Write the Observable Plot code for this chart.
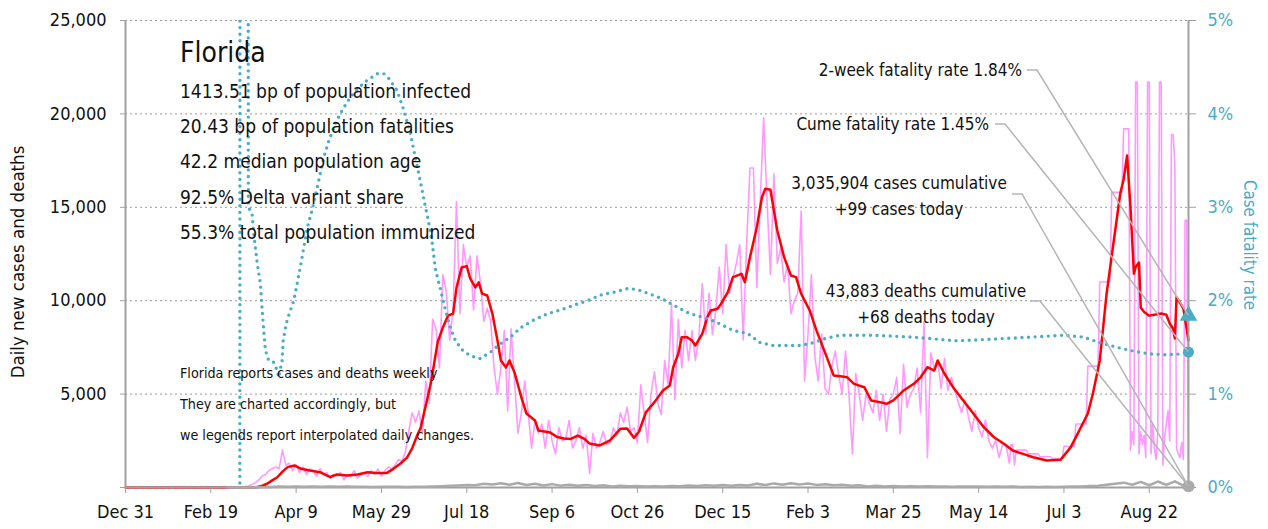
<!DOCTYPE html>
<html><head><meta charset="utf-8">
<script src="https://cdn.jsdelivr.net/npm/d3@7"></script>
<script src="https://cdn.jsdelivr.net/npm/@observablehq/plot@0.6"></script>
<style>
body{margin:0;background:#fff;}
svg, svg text{font-stretch:condensed;}
</style></head><body><div id="chart"></div>
<script>
// ---- data (day offsets from Dec 31, 2019) ----
const originMs = Date.UTC(2019, 11, 31);
const lastDay = 623;

// daily new cases, every 2nd day, from day 60 to day 518
const pinkEarlyStart = 60;
const pinkEarlyStep = 2;
const pinkEarly = [
  0,0,10,20,30,50,80,150,250,400,
  600,700,900,1000,1100,1000,2000,1200,1300,900,
  1200,800,1100,700,1000,900,600,1000,700,800,
  500,700,600,800,400,700,600,900,500,700,
  800,600,900,700,1000,600,900,1100,1000,1200,
  1500,1400,1900,3000,4000,3500,4100,2900,5700,4500,
  9000,8500,6400,11400,10500,7900,9500,15300,9300,13000,
  11800,12400,9500,12400,11000,8900,9600,8900,6400,5000,
  6400,8400,4100,8500,5700,2900,4000,5700,4000,2100,
  3600,2900,3400,2100,3600,2500,1800,3200,2500,2600,
  3600,2100,2500,3200,2100,2800,750,2900,2100,2400,
  3000,2300,2400,3200,2800,4000,3500,4300,3000,3200,
  2400,5500,4000,2400,5000,6200,4500,3900,6800,5500,
  9800,4700,9000,6400,8400,6800,8400,6800,8000,10900,
  8200,10400,8200,9500,11800,9300,13000,10400,11200,12000,
  13000,7900,13000,17100,17100,10700,15300,19800,15300,11400,
  16800,12000,12800,11000,12000,9300,10000,10400,14800,5700,
  8200,11400,7000,5700,8200,5300,5000,6500,7300,6000,
  5000,7300,5000,1800,6100,5000,3600,5000,4500,4000,
  5200,3600,5000,3000,4700,5000,5900,2900,6600,4300,
  5000,5300,6400,4000,8900,1600,7200,6400,6800,5300,
  6900,5200,5900,5200,4600,4000,4700,3800,3000,4100,
  3200,2700,3600,2500,2100,2500,1600,2300,2300,1300
];

// daily new cases (weekly reporting period), every day from day 519 to day 623
const pinkLateStart = 519;
const pinkLate = [
  2300,2300,1200,
  2000,2000,2000,2000,2000,2000,2000,
  1800,1800,1800,1800,1800,1800,1800,
  1650,1650,1650,1650,1650,1650,1650,
  1550,1550,1550,1550,1550,1550,1550,
  2200,2200,2200,2200,2200,2200,2200,
  3400,3400,3400,3400,3400,3400,3400,
  6500,6500,6500,6500,6500,6500,6500,
  11000,11000,11000,11000,11000,11000,11000,
  15800,15800,15800,15800,15800,15800,15800,
  19200,19200,19200,19200,
  2000,3000,2300,21700,21700,1800,3000,2300,2800,1600,
  21700,21700,1800,3400,2100,1500,3000,21700,21700,1200,
  2700,3400,4100,2500,18900,18900,17300,2100,1800,1600,
  2400,1500,14300,14300,0
];

// 7-day average of new cases
const redDays = [0,76,80,83,86,89,92,95,99,103,108,114,120,124,130,136,142,147,153,157,161,165,168,171,173,176,179,183,186,189,192,194,197,200,202,205,207,209,212,215,218,220,223,225,228,232,235,240,242,249,253,257,261,265,269,272,278,284,290,294,298,301,305,310,315,319,321,324,326,329,332,334,338,341,343,347,349,353,356,361,363,366,370,373,375,378,380,382,386,390,393,396,398,401,405,408,411,415,419,423,427,433,437,442,446,450,456,462,466,470,474,476,480,485,491,497,503,509,515,520,526,532,540,548,554,558,564,567,571,575,579,583,585,587,589,591,592,594,595,597,600,603,607,610,612,614,615,616,618,620,623];
const redVals = [0,0,80,200,380,550,850,1090,1180,1000,910,820,560,700,640,700,820,770,770,1000,1270,1600,2100,2800,3200,4400,5600,7800,8560,9200,9310,10700,11780,11850,11190,10710,10980,10380,10280,9310,7870,6800,6420,6800,6160,4820,3960,3590,3050,2940,2700,2620,2600,2780,2600,2350,2250,2520,3140,3160,2660,3000,4030,4570,5190,5460,6440,7160,8050,8050,7870,7600,8230,9120,9480,9570,9830,10460,11260,11440,10990,12330,13930,15540,15990,15940,14830,13760,12330,11350,11260,10370,10010,9480,8400,7690,6980,6000,5950,5900,5550,5370,4660,4570,4480,4660,5190,5550,5900,6440,6260,6800,6090,5370,4660,3950,3230,2690,2330,1980,1800,1620,1450,1480,2160,2870,3960,5030,6800,10380,13060,15740,16500,17770,15000,11450,11800,12040,9640,9400,9200,9250,9310,9250,8780,8500,7980,10170,9900,9580,7870];

// case fatality rate, percent
const cfrDays = [0,67,67.2,71.7,72,74.2,75,76.1,77.2,79.1,80.1,81,82,83.9,86.9,88.9,89.8,91.8,92.4,93.8,94.7,96.7,98.6,100.6,102.5,104.5,106.5,109.4,112.3,116.2,119.1,123,127,131.8,136.7,141.6,147.5,151.4,154.3,159.2,163.1,167,169.9,172.9,175.8,177.5,179.9,181.6,184.6,187.5,190.4,193.4,197.5,202.2,208,213.9,219.7,225.6,231.5,239,247.3,254.9,262.5,270.7,278.3,286,294.2,300,313.5,323.5,331,341,348.6,356.3,364.5,372,379.7,387.9,395.5,403.1,411,418.7,438.3,461.7,487.5,520.3,549.6,561.4,571.3,581.3,590.6,600.6,610.5,618.1,623];
const cfrVals = [0,0,12,12,3.0,2.93,2.75,2.57,2.4,2.18,1.9,1.68,1.47,1.36,1.34,1.25,1.18,1.36,1.57,1.71,1.79,1.9,2.0,2.18,2.36,2.57,2.78,2.97,3.21,3.53,3.71,3.9,4.04,4.18,4.28,4.36,4.43,4.43,4.38,4.25,4.04,3.79,3.53,3.27,3.0,2.86,2.6,2.34,2.12,1.9,1.71,1.57,1.47,1.41,1.38,1.45,1.54,1.61,1.71,1.79,1.86,1.9,1.95,2.0,2.06,2.09,2.13,2.12,2.03,1.93,1.86,1.81,1.75,1.68,1.65,1.55,1.52,1.52,1.52,1.55,1.6,1.63,1.63,1.61,1.57,1.6,1.63,1.61,1.55,1.5,1.46,1.43,1.42,1.43,1.45];

// daily deaths, every 5th day from day 60 to day 620, then today's value
const deathStart = 60;
const deathStep = 5;
const deathVals = [
  0,0,2,5,15,30,50,45,60,40,55,45,50,35,55,40,45,30,45,35,
  40,30,45,40,55,70,90,110,140,120,200,160,230,150,240,130,200,110,180,100,
  150,90,140,80,120,60,100,70,80,60,70,60,80,70,110,80,120,90,130,100,
  140,110,200,130,220,150,230,160,210,140,180,120,150,90,120,60,90,60,80,50,
  70,60,70,50,60,40,60,50,60,40,50,40,50,30,40,30,40,30,40,50,
  60,80,100,150,200,260,150,300,120,320,140,330,100
];
const deathsToday = 68;

const twoWeekCfr = 1.84;
const cumeCfr = 1.45;

const yTicks = [0, 5000, 10000, 15000, 20000, 25000];
const xTickDays = [0,50,100,150,200,250,300,350,400,450,500,550,600];

const statLines = [
  "1413.51 bp of population infected",
  "20.43 bp of population fatalities",
  "42.2 median population age",
  "92.5% Delta variant share",
  "55.3% total population immunized"
];
const noteLines = [
  "Florida reports cases and deaths weekly",
  "They are charted accordingly, but",
  "we legends report interpolated daily changes."
];

// ---- build ----
const day = d => new Date(originMs + d * 864e5);
const pinkData = [];
pinkEarly.forEach((v, i) => pinkData.push({date: day(pinkEarlyStart + i * pinkEarlyStep), v}));
pinkLate.forEach((v, i) => pinkData.push({date: day(pinkLateStart + i), v}));
const redData = redDays.map((d, i) => ({date: day(d), v: redVals[i]}));
const cfrScale = 5000; // 1% on the right axis == 5,000 on the left axis
const cfrData = cfrDays.map((d, i) => ({date: day(d), v: cfrVals[i] * cfrScale}));
const deathData = deathVals.map((v, i) => ({date: day(deathStart + i * deathStep), v}));
deathData.push({date: day(lastDay), v: deathsToday});

const FONT = '"DejaVu Sans Condensed","DejaVu Sans",sans-serif';
const BLUE = "#4bacc6";
const AXIS = "#a0a0a0";

function annotations(index, scales, values, dim) {
  const g = d3.create("svg:g").attr("font-family", FONT).attr("fill", "#111")
    .attr("text-anchor", "start").style("font-stretch", "condensed");
  const x = scales.x, y = scales.y;
  const xe = x(day(lastDay));
  // title block
  g.append("text").attr("x", 180).attr("y", 62).attr("font-size", 28).text("Florida");
  statLines.forEach((t, i) => g.append("text").attr("x", 180).attr("y", 98 + i * 35.2).attr("font-size", 19).text(t));
  noteLines.forEach((t, i) => g.append("text").attr("x", 180).attr("y", 378 + i * 31).attr("font-size", 14.2).text(t));
  // axis titles
  g.append("text").attr("transform", "translate(24,262) rotate(-90)").attr("text-anchor", "middle")
    .attr("font-size", 18.5).text("Daily new cases and deaths");
  g.append("text").attr("transform", "translate(1244,245) rotate(90)").attr("text-anchor", "middle")
    .attr("font-size", 16.8).attr("fill", BLUE).text("Case fatality rate");
  // right-side labels with leaders
  const labels = [
    {lines: ["2-week fatality rate 1.84%"], anchor: "end", tx: 1022, ty: 76, lx: 1027, ly: 70, to: y(twoWeekCfr * cfrScale)},
    {lines: ["Cume fatality rate 1.45%"], anchor: "end", tx: 989, ty: 130, lx: 995, ly: 124, to: y(cumeCfr * cfrScale)},
    {lines: ["3,035,904 cases cumulative", "+99 cases today"], anchor: "middle", tx: 899, ty: 189, lx: 1012, ly: 194, to: y(deathsToday)},
    {lines: ["43,883 deaths cumulative", "+68 deaths today"], anchor: "middle", tx: 926, ty: 297, lx: 1030, ly: 301, to: y(deathsToday)}
  ];
  labels.forEach(L => {
    g.append("polyline").attr("fill", "none").attr("stroke", "#b5b5b5").attr("stroke-width", 1.5)
      .attr("points", `${L.lx},${L.ly} ${L.lx + 10},${L.ly} ${xe},${L.to}`);
    L.lines.forEach((t, i) => g.append("text").attr("x", L.tx).attr("y", L.ty + i * 26)
      .attr("text-anchor", L.anchor).attr("font-size", 17).text(t));
  });
  return g.node();
}

const chart = Plot.plot({
  width: 1268, height: 529,
  marginLeft: 125, marginRight: 80, marginTop: 20, marginBottom: 42,
  style: {fontFamily: FONT, fontSize: "18px", color: "#111", background: "#fff"},
  x: {type: "utc", domain: [day(0), day(lastDay)]},
  y: {domain: [0, 25000]},
  marks: [
    Plot.gridY(yTicks.slice(1), {stroke: "#999", strokeOpacity: 1, strokeWidth: 1, strokeDasharray: "2,3"}),
    Plot.line(pinkData, {x: "date", y: "v", stroke: "#ff99ff", strokeWidth: 1.6}),
    Plot.line(redData, {x: "date", y: "v", stroke: "#ff0000", strokeWidth: 2.5}),
    Plot.line(cfrData, {x: "date", y: "v", stroke: BLUE, strokeWidth: 3.4, strokeDasharray: "0,6.6", strokeLinecap: "round", clip: true}),
    Plot.ruleY([0], {stroke: AXIS, strokeWidth: 2}),
    Plot.ruleX([day(0), day(lastDay)], {stroke: AXIS, strokeWidth: 2}),
    Plot.line(deathData, {x: "date", y: "v", stroke: "#aaaaaa", strokeWidth: 2.5}),
    Plot.axisY(yTicks, {anchor: "left", tickSize: 5, tickPadding: 14, stroke: AXIS, label: null,
      tickFormat: d => d === 0 ? "" : d3.format(",")(d), fontSize: 18}),
    Plot.axisY(yTicks, {anchor: "right", tickSize: 7, tickPadding: 12, stroke: AXIS, fill: BLUE, label: null,
      tickFormat: d => (d / cfrScale) + "%", fontSize: 18}),
    Plot.axisX(xTickDays.map(day), {anchor: "bottom", tickSize: 6, tickPadding: 12, stroke: AXIS, label: null,
      tickFormat: d3.utcFormat("%b %-d"), fontSize: 18}),
    Plot.dot([{date: day(lastDay), v: deathsToday}], {x: "date", y: "v", r: 6, fill: "#aaaaaa"}),
    Plot.dot([{date: day(lastDay), v: cumeCfr * cfrScale}], {x: "date", y: "v", r: 5.5, fill: BLUE}),
    Plot.dot([{date: day(lastDay), v: twoWeekCfr * cfrScale}], {x: "date", y: "v", r: 6.5, fill: BLUE, symbol: "triangle"}),
    annotations
  ]
});
document.getElementById("chart").appendChild(chart);
</script></body></html>
